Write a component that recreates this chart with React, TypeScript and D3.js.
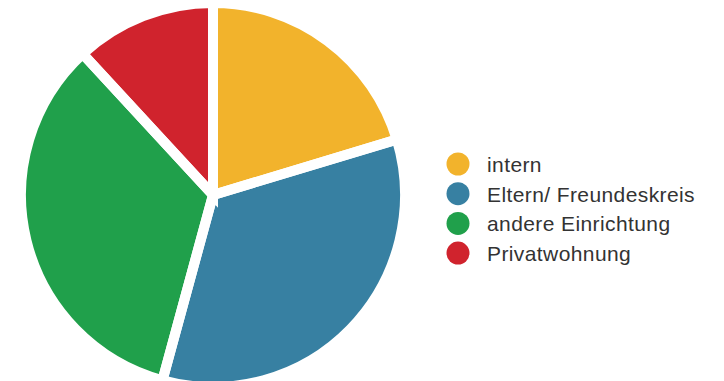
import React from "react";
import * as d3 from "d3";

const categories = ["intern", "Eltern/ Freundeskreis", "andere Einrichtung", "Privatwohnung"];
const values = [12, 20, 20, 7];
const colors = ["#F2B32C", "#3780A2", "#20A04B", "#D0232D"];

const W = 724;
const H = 381;

export default function App() {
  const cx = 213;
  const cy = 195;
  const r = 192;
  const pie = d3.pie<number>().sort(null).value((d) => d);
  const arcs = pie(values);
  const arc = d3.arc<d3.PieArcDatum<number>>().innerRadius(0).outerRadius(r);

  const legendX = 458;
  const legendY0 = 164;
  const legendStep = 29.7;

  return (
    <svg width={W} height={H} style={{ position: "absolute", left: 0, top: 0, background: "#fff" }}>
      <g transform={`translate(${cx},${cy})`}>
        {arcs.map((a, i) => (
          <path key={"f" + i} d={arc(a) || ""} fill={colors[i]} />
        ))}
        {arcs.map((a, i) => (
          <path
            key={"s" + i}
            d={arc(a) || ""}
            fill="none"
            stroke="#fff"
            strokeWidth={10}
            strokeLinejoin="miter"
          />
        ))}
      </g>
      <g>
        {categories.map((c, i) => (
          <g key={c} transform={`translate(${legendX},${legendY0 + i * legendStep})`}>
            <circle r={11.5} fill={colors[i]} />
            <text
              x={29}
              y={0}
              dy="0.38em"
              fontFamily="'Liberation Sans', Arial, sans-serif"
              fontSize={21}
              letterSpacing={0.4}
              fill="#333"
            >
              {c}
            </text>
          </g>
        ))}
      </g>
    </svg>
  );
}
